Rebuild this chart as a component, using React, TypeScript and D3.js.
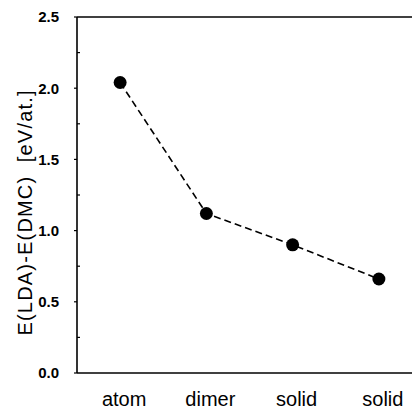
import React from "react";
import * as d3 from "d3";

// data
const categories = ["atom", "dimer", "solid", "solid"];
const energyDiff = [2.04, 1.12, 0.9, 0.66];
const yTicks = [0, 0.5, 1.0, 1.5, 2.0, 2.5];
const yMinorTicks = [0.25, 0.75, 1.25, 1.75, 2.25];

const W = 412;
const H = 409;
const margin = { top: 17, right: -10, bottom: 36, left: 77 };

const App = () => {
	const x = d3
		.scalePoint<number>()
		.domain(categories.map((_, i) => i))
		.range([margin.left, W - margin.right])
		.padding(0.5);
	const y = d3
		.scaleLinear()
		.domain([0, 2.5])
		.range([H - margin.bottom, margin.top]);

	const line = d3
		.line<number>()
		.x((d, i) => x(i) as number)
		.y((d) => y(d));

	const font = "Arial, 'Liberation Sans', Helvetica, sans-serif";

	return (
		<svg
			width={W}
			height={H}
			style={{ position: "absolute", left: 0, top: 0, background: "#fff" }}
			fontFamily={font}
		>
			{/* frame: left, top, bottom (right side runs off the page) */}
			<line x1={margin.left} x2={margin.left} y1={y(0)} y2={y(2.5)} stroke="#000" strokeWidth={1.6} />
			<line x1={margin.left} x2={W} y1={y(2.5)} y2={y(2.5)} stroke="#000" strokeWidth={1.6} />
			<line x1={margin.left} x2={W} y1={y(0)} y2={y(0)} stroke="#000" strokeWidth={1.6} />

			{yTicks.map((t) => (
				<g key={"t" + t}>
					<line x1={margin.left - 3} x2={margin.left} y1={y(t)} y2={y(t)} stroke="#000" strokeWidth={1.2} />
					<text
						x={59}
						y={y(t)}
						dy="0.36em"
						textAnchor="end"
						fontWeight="bold"
						fontSize={15}
					>
						{t.toFixed(1)}
					</text>
				</g>
			))}
			{yMinorTicks.map((t) => (
				<line key={"m" + t} x1={margin.left} x2={margin.left + 3} y1={y(t)} y2={y(t)} stroke="#000" strokeWidth={1.2} />
			))}

			<text
				transform={`translate(32,213) rotate(-90)`}
				textAnchor="middle"
				fontSize={20}
				textLength={245}
				lengthAdjust="spacing"
			>
				{"E(LDA)-E(DMC)\u00a0\u00a0[eV/at.]"}
			</text>

			{categories.map((c, i) => (
				<text key={"c" + i} x={x(i) as number + 4} y={406} textAnchor="middle" fontSize={20}>
					{c}
				</text>
			))}

			<path
				d={line(energyDiff) || ""}
				fill="none"
				stroke="#000"
				strokeWidth={1.6}
				strokeDasharray="7,4"
			/>
			{energyDiff.map((v, i) => (
				<circle key={"p" + i} cx={x(i)} cy={y(v)} r={6.5} fill="#000" />
			))}
		</svg>
	);
};

export default App;
